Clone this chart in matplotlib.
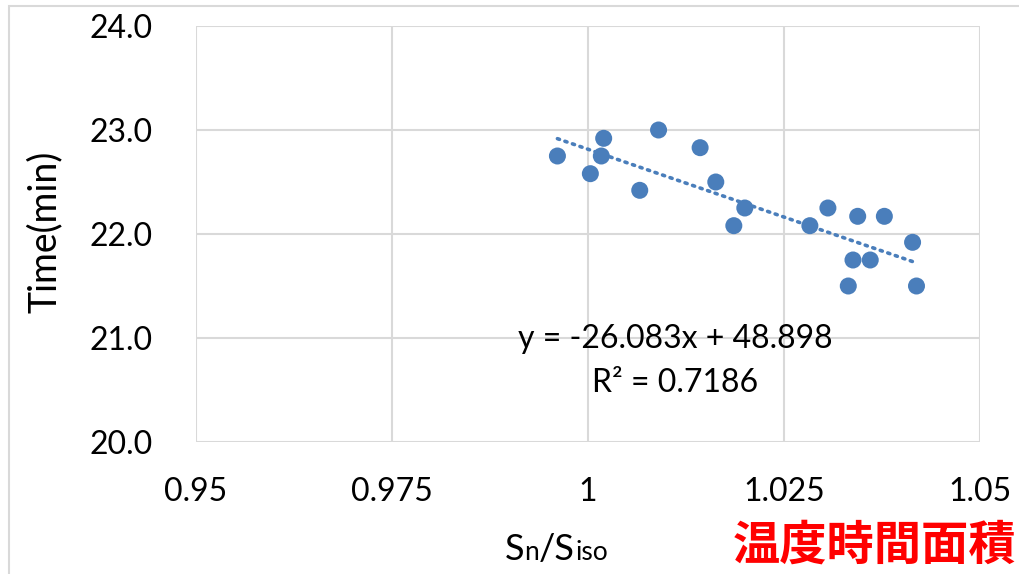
import matplotlib
matplotlib.use("Agg")
import matplotlib.pyplot as plt
from matplotlib.patches import Rectangle
import numpy as np

# Ratio Sn/Siso versus time
ratio = [0.9961, 1.0020, 1.0017, 1.0003, 1.0090, 1.0066, 1.0143, 1.0163, 1.0200, 1.0186,
         1.0283, 1.0306, 1.0344, 1.0378, 1.0414, 1.0338, 1.0360, 1.0332, 1.0419]
time_min = [22.75, 22.92, 22.75, 22.58, 23.00, 22.42, 22.83, 22.50, 22.25, 22.08,
            22.08, 22.25, 22.17, 22.17, 21.92, 21.75, 21.75, 21.50, 21.50]

# Linear trend stated on the chart
slope = -26.083
intercept = 48.898
r_squared = 0.7186

x_ticks = [0.95, 0.975, 1.0, 1.025, 1.05]
x_tick_labels = ["0.95", "0.975", "1", "1.025", "1.05"]
y_ticks = [20.0, 21.0, 22.0, 23.0, 24.0]

W, H, DPI = 1019, 574, 100
fig = plt.figure(figsize=(W / DPI, H / DPI), dpi=DPI)
fig.patch.set_facecolor("white")

font = "Lato"
blue = "#4A7EBB"
grid = "#D9D9D9"

# outer chart frame
fig.add_artist(Rectangle((9 / W, -0.05), 1.2, 1 - 6 / H + 0.05, transform=fig.transFigure,
                         fill=False, edgecolor="#D9D9D9", linewidth=1.5))

ax = fig.add_axes([196 / W, 1 - 442 / H, (980 - 196) / W, (442 - 26) / H])
ax.set_xlim(0.95, 1.05)
ax.set_ylim(20.0, 24.0)
ax.set_xticks(x_ticks)
ax.set_xticklabels(x_tick_labels)
ax.set_yticks(y_ticks)
ax.set_yticklabels([f"{v:.1f}" for v in y_ticks])
ax.grid(True, color=grid, linewidth=1.5)
ax.set_axisbelow(True)
for s in ax.spines.values():
    s.set_visible(False)
ax.tick_params(length=0, labelsize=23, colors="black")
ax.tick_params(axis="x", pad=25)
ax.tick_params(axis="y", pad=31)
for lab in ax.get_xticklabels() + ax.get_yticklabels():
    lab.set_family(font)

xs = np.array([min(ratio), max(ratio)])
ax.plot(xs, slope * xs + intercept, linestyle=(0, (0.6, 1.6)), color=blue,
        linewidth=2.6, dash_capstyle="round", zorder=2)
ax.scatter(ratio, time_min, s=150, color=blue, edgecolors="none", zorder=3)

ax.text(1.0111, 20.99, f"y = {slope}x + {intercept}", ha="center", va="center",
        fontsize=23, family=font)
ax.text(1.0111, 20.57, f"R² = {r_squared}", ha="center", va="center",
        fontsize=23, family=font)

fig.text(45 / W, 1 - 232 / H, "Time(min)", rotation=90, ha="center", va="center",
         fontsize=27, family=font)

# x-axis title with smaller n / iso
renderer = fig.canvas.get_renderer()
x0 = 505 / W
yb = 1 - 560 / H
parts = [("S", 26), ("n", 19), ("/S", 26), ("iso", 19)]
for txt, fs in parts:
    t = fig.text(x0, yb, txt, fontsize=fs, family=font, ha="left", va="baseline")
    bb = t.get_window_extent(renderer=renderer)
    x0 += bb.width / W

fig.text(733 / W, 1 - 560 / H, "温度時間面積", color="#FF0000", fontsize=34,
         family=["Noto Sans CJK JP", "DejaVu Sans"], fontweight="bold",
         ha="left", va="baseline")

fig.savefig("out.png", dpi=DPI)
